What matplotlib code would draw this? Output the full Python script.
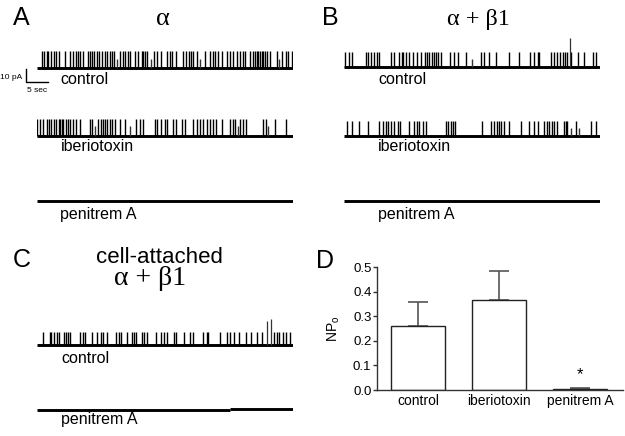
import matplotlib
matplotlib.use('Agg')
import matplotlib.pyplot as plt

W, H = 625, 436
SANS = ['Liberation Sans', 'DejaVu Sans']
SERIF = ['Liberation Serif', 'DejaVu Serif']
plt.rcParams['font.family'] = SANS

# ---------------- data ----------------
# channel opening times (s); amplitudes in pA
a_ctrl_t = [1.15, 1.7, 2.3, 2.7, 3.2, 4.0, 4.4, 5.2, 6.5, 7.6, 8.3, 9.0, 9.5, 9.9, 10.5,
            11.8, 12.1, 12.6, 13.0, 13.7, 14.3, 14.8, 15.5, 16.1, 16.7, 17.1, 17.6, 19.0,
            19.6, 20.1, 20.8, 21.2, 22.4, 23.1, 23.9, 24.3, 24.6, 25.0, 26.7, 27.3, 28.4,
            29.6, 30.3, 30.9, 31.8, 33.3, 33.9, 34.7, 35.2, 35.6, 36.4, 38.3, 39.4, 40.0,
            40.5, 41.3, 42.1, 43.2, 44.0, 44.7, 45.5, 46.2, 47.0, 47.4, 48.5, 49.3, 49.6,
            50.0, 50.4, 50.8, 51.2, 51.5, 51.9, 52.3, 53.0, 54.6, 55.7, 56.8, 57.2, 58.0]
a_ctrl_sub_t = [18.3, 26.0, 37.2, 55.0]
a_ctrl_amp = 14.5

a_ibtx_t = [0.2, 0.8, 1.5, 2.4, 2.9, 3.4, 4.0, 4.4, 5.0, 5.3, 5.7, 6.1, 6.7, 7.2, 7.7, 8.3,
            9.0, 9.9, 12.1, 12.7, 14.0, 14.6, 15.0, 15.5, 16.1, 16.7, 17.1, 17.8, 19.0,
            20.1, 22.6, 23.5, 24.3, 26.9, 27.4, 28.4, 29.2, 29.6, 31.1, 31.8, 33.0, 33.7,
            35.5, 36.4, 37.1, 37.9, 38.7, 39.4, 40.2, 40.9, 42.1, 44.0, 44.6, 45.1, 46.2,
            47.0, 47.7, 51.5, 52.1, 54.2, 56.8]
a_ibtx_sub_t = [13.3, 21.2, 45.9, 52.7]
a_ibtx_amp = 14.0

b_ctrl_t = [0.3, 1.3, 2.0, 5.1, 5.6, 6.2, 7.0, 7.6, 8.1, 10.8, 11.5, 12.7, 13.2, 13.6, 14.2,
            14.9, 15.7, 16.8, 17.6, 18.5, 18.9, 19.5, 20.0, 20.6, 21.1, 21.5, 22.1, 24.2,
            25.0, 26.1, 27.8, 31.2, 32.0, 33.1, 34.6, 37.7, 39.9, 42.4, 43.3, 44.1, 44.5,
            47.1, 47.9, 48.6, 49.2, 49.8, 50.3, 50.9, 51.8, 53.2, 54.7, 56.6, 57.4]
b_ctrl_sub_t = [29.3]
b_ctrl_tall_t = [51.5]
b_ctrl_tall_amp = [24.0]
b_ctrl_amp = 12.2

b_ibtx_t = [0.9, 2.0, 3.6, 5.5, 8.1, 8.9, 9.6, 10.2, 10.8, 11.5, 12.3, 12.9, 14.9, 16.1,
            16.7, 17.2, 18.0, 18.7, 23.3, 23.8, 24.4, 24.8, 25.3, 31.4, 33.6, 34.2, 34.8,
            35.4, 35.8, 36.4, 37.7, 40.3, 42.2, 43.3, 44.1, 45.6, 46.2, 46.7, 47.3, 47.9,
            48.6, 50.0, 50.5, 50.9, 52.8, 56.2, 57.4]
b_ibtx_sub_t = [51.7, 53.6]
b_ibtx_amp = 12.5

c_ctrl_t = [1.4, 3.0, 3.4, 4.0, 4.6, 5.2, 6.2, 6.7, 7.2, 7.7, 9.9, 10.5, 11.0, 12.5, 13.7,
            14.6, 15.0, 16.1, 18.0, 18.8, 19.3, 20.5, 21.6, 22.1, 22.7, 23.9, 24.4, 25.0,
            27.1, 28.4, 29.0, 29.7, 31.2, 31.8, 33.5, 34.9, 35.5, 37.9, 38.7, 39.0, 41.8,
            43.3, 44.0, 44.9, 46.1, 47.6, 48.7, 50.0, 51.2, 54.0, 54.6, 55.2, 56.1, 56.8,
            57.7]
c_ctrl_tall_t = [52.3, 53.2]
c_ctrl_tall_amp = [19.7, 22.0]
c_ctrl_amp = 11.0

c_pen_step_t = 44.0
c_pen_levels = [0.0, 0.8]

# bar chart (panel D)
d_categories = ['control', 'iberiotoxin', 'penitrem A']
d_npo = [0.26, 0.365, 0.006]
d_sem = [0.096, 0.12, 0.002]

# ---------------- figure ----------------
fig = plt.figure(figsize=(W / 100, H / 100), dpi=100)

PX_PER_S = 4.4
PX_PER_PA = 1.2
TRACE_S = 58.4
SUB_AMP_FRAC = 0.55


def fx(px):
    return px / W


def fy(py):
    return 1 - py / H


def trace_axes(x0, base_y, lo=-14.0, hi=30.0):
    width = TRACE_S * PX_PER_S
    bottom_px = base_y - lo * PX_PER_PA
    top_px = base_y - hi * PX_PER_PA
    ax = fig.add_axes([fx(x0), fy(bottom_px), width / W, (bottom_px - top_px) / H])
    ax.set_xlim(0, TRACE_S)
    ax.set_ylim(lo, hi)
    ax.axis('off')
    ax.patch.set_visible(False)
    return ax


def draw_trace(ax, times=(), amp=0.0, sub_t=(), tall_t=(), tall_amp=()):
    ax.hlines(0, 0, TRACE_S, color='black', lw=2.1)
    if len(times):
        ax.vlines(times, 0, amp, color='black', lw=1.0)
    if len(sub_t):
        ax.vlines(sub_t, 0, amp * SUB_AMP_FRAC, color='#333333', lw=1.0)
    if len(tall_t):
        ax.vlines(tall_t, 0, tall_amp, color='#333333', lw=0.9)


def label(px, py, s, **kw):
    kw.setdefault('fontsize', 11.5)
    kw.setdefault('va', 'baseline')
    fig.text(fx(px), fy(py), s, **kw)


# Panel A
ax = trace_axes(36.5, 68.5)
draw_trace(ax, a_ctrl_t, a_ctrl_amp, a_ctrl_sub_t)
ax.plot([-2.4, -2.4, 2.6], [-0.8, -11.0, -11.0], color='black', lw=1.0, clip_on=False)
label(22, 79, '10 pA', fontsize=6, ha='right')
label(37, 92, '5 sec', fontsize=6, ha='center')
ax = trace_axes(36.5, 135.7)
draw_trace(ax, a_ibtx_t, a_ibtx_amp, a_ibtx_sub_t)
ax = trace_axes(36.5, 201)
draw_trace(ax)
label(60.5, 84, 'control')
label(60.5, 151, 'iberiotoxin')
label(60.5, 219, 'penitrem A')

# Panel B
ax = trace_axes(343.5, 67)
draw_trace(ax, b_ctrl_t, b_ctrl_amp, b_ctrl_sub_t, b_ctrl_tall_t, b_ctrl_tall_amp)
ax = trace_axes(343.5, 136)
draw_trace(ax, b_ibtx_t, b_ibtx_amp, b_ibtx_sub_t)
ax = trace_axes(343.5, 201)
draw_trace(ax)
label(378, 84, 'control')
label(378, 151, 'iberiotoxin')
label(378, 219, 'penitrem A')

# Panel C
ax = trace_axes(36.5, 345)
draw_trace(ax, c_ctrl_t, c_ctrl_amp, (), c_ctrl_tall_t, c_ctrl_tall_amp)
ax = trace_axes(36.5, 409.5)
ax.hlines(c_pen_levels, [0, c_pen_step_t], [c_pen_step_t, TRACE_S], color='black', lw=2.1)
label(61, 363, 'control')
label(61, 424, 'penitrem A')

# panel letters and titles
label(13, 25, 'A', fontsize=18)
label(322, 25, 'B', fontsize=18)
label(12.5, 267, 'C', fontsize=18)
label(316, 268, 'D', fontsize=18)
label(163, 25, 'α', fontsize=19, ha='center', family=SERIF)
label(478, 25, 'α + β1', fontsize=17.5, ha='center', family=SERIF)
label(159, 263, 'cell-attached', fontsize=16, ha='center')
label(150, 285, 'α + β1', fontsize=20, ha='center', family=SERIF)

# Panel D
axd = fig.add_axes([fx(377), fy(390), (623 - 377) / W, (390 - 267) / H])
xpos = list(range(len(d_categories)))
axd.bar(xpos, d_npo, width=0.667, color='white', edgecolor='#222222', lw=1.0, zorder=2)
axd.errorbar(xpos, d_npo, yerr=[[0] * len(d_sem), d_sem], fmt='none', ecolor='#555555',
             elinewidth=1.2, capsize=7.5, capthick=1.2, zorder=1)
axd.set_xlim(-0.506, 2.53)
axd.set_ylim(0, 0.5)
axd.set_yticks([0.0, 0.1, 0.2, 0.3, 0.4, 0.5])
axd.set_yticklabels(['0.0', '0.1', '0.2', '0.3', '0.4', '0.5'])
axd.set_xticks(xpos)
axd.set_xticklabels(d_categories)
axd.tick_params(axis='x', length=0, labelsize=10, pad=3)
axd.tick_params(axis='y', length=3, width=1, color='#333333', labelsize=9.5, pad=1)
for s in ['top', 'right']:
    axd.spines[s].set_visible(False)
for s in ['left', 'bottom']:
    axd.spines[s].set_color('#333333')
    axd.spines[s].set_linewidth(1.0)
axd.patch.set_visible(False)
axd.set_ylabel(r'NP$_\mathregular{o}$', fontsize=10)
axd.yaxis.set_label_coords(-0.142, 0.5)
axd.text(2, 0.045, '*', ha='center', va='baseline', fontsize=12)

fig.savefig('out.png', dpi=100)
